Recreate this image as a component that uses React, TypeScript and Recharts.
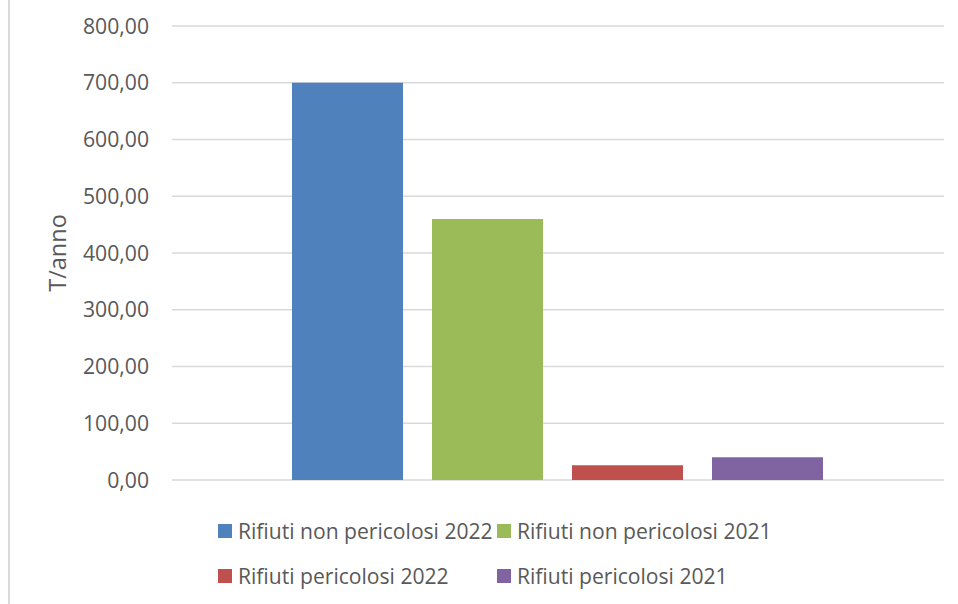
import React from 'react';
import { BarChart, Bar, XAxis, YAxis, CartesianGrid } from 'recharts';

// Waste quantities (tonnes per year)
const categories = [''];
const seriesNames = [
  'Rifiuti non pericolosi 2022',
  'Rifiuti non pericolosi 2021',
  'Rifiuti pericolosi 2022',
  'Rifiuti pericolosi 2021',
];
const seriesKeys = ['nonPer2022', 'nonPer2021', 'per2022', 'per2021'];
const seriesColors = ['#4f81bd', '#9bbb59', '#c0504d', '#8064a2'];
const nonPericolosi2022 = [700];
const nonPericolosi2021 = [460];
const pericolosi2022 = [26];
const pericolosi2021 = [40];
const yTicks = [0, 100, 200, 300, 400, 500, 600, 700, 800];

const data = categories.map((name, i) => ({
  name,
  nonPer2022: nonPericolosi2022[i],
  nonPer2021: nonPericolosi2021[i],
  per2022: pericolosi2022[i],
  per2021: pericolosi2021[i],
}));

const FONT = '"Open Sans", sans-serif';
const TEXT = '#595959';

const fmt = (v: number) => v.toFixed(2).replace('.', ',');

const legendRows = [
  [0, 1],
  [2, 3],
];

export default function App() {
  return (
    <div style={{ position: 'absolute', left: 0, top: 0, width: 958, height: 604, background: '#fff', fontFamily: FONT }}>
      <div style={{ position: 'absolute', left: 8, top: 0, width: 1.5, height: 604, background: '#d9d9d9' }} />
      <BarChart
        width={958}
        height={604}
        data={data}
        margin={{ top: 26, right: 14, bottom: 124, left: 0 }}
        barCategoryGap={120}
        barGap={29}
      >
        <CartesianGrid vertical={false} stroke="#d9d9d9" strokeWidth={1.4} />
        <XAxis dataKey="name" hide />
        <YAxis
          width={172}
          domain={[0, 800]}
          ticks={yTicks}
          interval={0}
          axisLine={false}
          tickLine={false}
          tickSize={8}
          tickMargin={15}
          tickFormatter={fmt}
          tick={{ fill: TEXT, fontSize: 21.2, fontFamily: FONT }}
          label={{
            position: 'insideLeft',
            content: (props: any) => {
              const vb = props.viewBox || {};
              const cy = (vb.y ?? 26) + (vb.height ?? 454) / 2;
              return (
                <text
                  x={57}
                  y={cy}
                  transform={`rotate(-90, 57, ${cy})`}
                  textAnchor="middle"
                  dominantBaseline="central"
                  fill={TEXT}
                  fontSize={23.5}
                  fontFamily={FONT}
                >
                  T/anno
                </text>
              );
            },
          }}
        />
        {seriesKeys.map((k, i) => (
          <Bar key={k} dataKey={k} name={seriesNames[i]} fill={seriesColors[i]} isAnimationActive={false} />
        ))}
      </BarChart>
      {legendRows.map((row, r) => (
        <div key={r} style={{ position: 'absolute', top: 531 + r * 45 - 15, height: 30, left: 0, width: 958 }}>
          {row.map((s, c) => (
            <div
              key={s}
              style={{
                position: 'absolute',
                left: c === 0 ? 218 : 497,
                top: 0,
                height: 30,
                display: 'flex',
                alignItems: 'center',
                whiteSpace: 'nowrap',
              }}
            >
              <span style={{ display: 'inline-block', width: 14, height: 14, background: seriesColors[s], marginRight: 6 }} />
              <span style={{ color: TEXT, fontSize: 21.1, fontFamily: FONT, lineHeight: '30px' }}>{seriesNames[s]}</span>
            </div>
          ))}
        </div>
      ))}
    </div>
  );
}
